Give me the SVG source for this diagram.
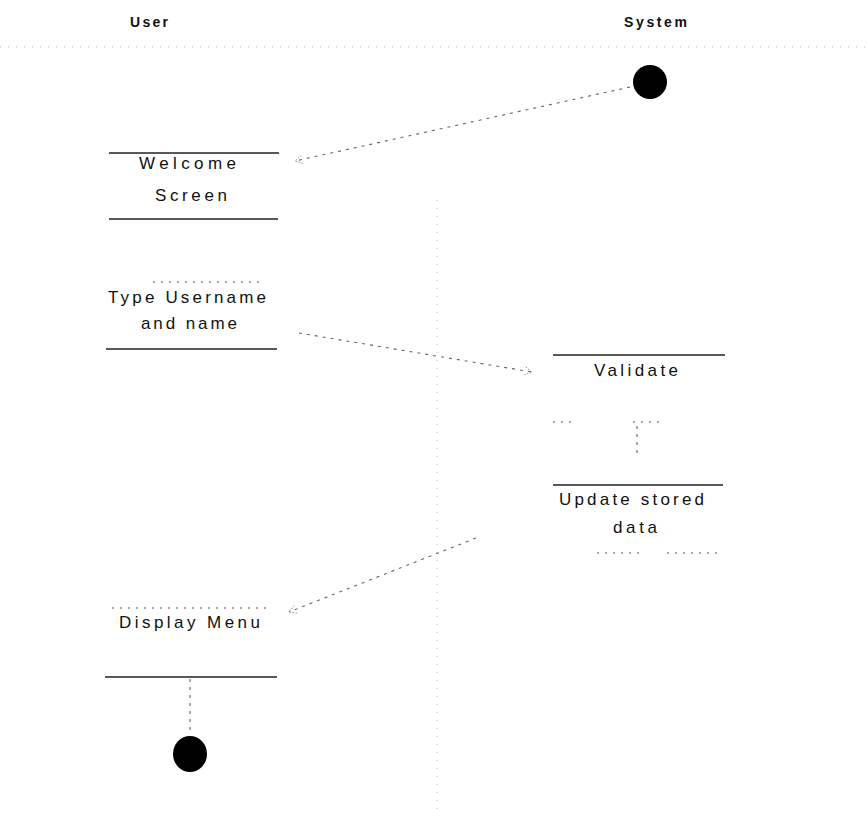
<svg xmlns="http://www.w3.org/2000/svg" width="867" height="819" viewBox="0 0 867 819">
<defs>
<style>
.bg{fill:#ffffff}
.lane{stroke:#b8b8b8;stroke-width:1;stroke-dasharray:1 7;fill:none}
.hdr{font-family:"Liberation Sans",Arial,sans-serif;font-size:14px;font-weight:bold;fill:#111}
.lbl{font-family:"Liberation Sans",Arial,sans-serif;font-size:17px;fill:#111}
.edge{stroke:#222;stroke-width:1.3;fill:none}
.faint{stroke:#555;stroke-width:1;stroke-dasharray:2 6;fill:none}
.conn{stroke:#666;stroke-width:1.1;stroke-dasharray:3 5;fill:none}
.dot{fill:#000}
</style>
<marker id="arr" markerWidth="10" markerHeight="10" refX="8" refY="5" orient="auto" markerUnits="userSpaceOnUse">
<path d="M1,1 L8,5 L1,9" fill="none" stroke="#888" stroke-width="0.9" stroke-dasharray="1.5 1.5"/>
</marker>
</defs>
<rect class="bg" x="0" y="0" width="867" height="819"/>

<g id="lanes">
<line class="lane" x1="0" y1="47" x2="867" y2="47"/>
<line class="lane" x1="437" y1="200" x2="437" y2="812"/>
<text class="hdr" x="130" y="27" textLength="38" lengthAdjust="spacing">User</text>
<text class="hdr" x="624" y="27" textLength="63" lengthAdjust="spacing">System</text>
</g>

<g id="connectors">
<line class="conn" x1="630" y1="87" x2="295" y2="161" marker-end="url(#arr)"/>
<line class="conn" x1="299" y1="333" x2="532" y2="372" marker-end="url(#arr)"/>
<line class="conn" x1="637" y1="426" x2="637" y2="458"/>
<line class="conn" x1="476" y1="538" x2="289" y2="612" marker-end="url(#arr)"/>
<line class="conn" x1="190" y1="679" x2="190" y2="734"/>
</g>

<g id="start">
<ellipse class="dot" cx="650" cy="82" rx="17" ry="17"/>
</g>

<g id="welcome">
<line class="edge" x1="109" y1="153" x2="279" y2="153"/>
<line class="edge" x1="109" y1="219" x2="278" y2="219"/>
<text class="lbl" x="139" y="169" textLength="97" lengthAdjust="spacing">Welcome</text>
<text class="lbl" x="155" y="201" textLength="72" lengthAdjust="spacing">Screen</text>
</g>

<g id="type-username">
<line class="faint" x1="153" y1="282" x2="265" y2="282"/>
<line class="edge" x1="106" y1="349" x2="277" y2="349"/>
<text class="lbl" x="108" y="303" textLength="158" lengthAdjust="spacing">Type Username</text>
<text class="lbl" x="141" y="329" textLength="96" lengthAdjust="spacing">and name</text>
</g>

<g id="validate">
<line class="edge" x1="553" y1="355" x2="725" y2="355"/>
<line class="faint" x1="553" y1="422" x2="576" y2="422"/>
<line class="faint" x1="633" y1="422" x2="662" y2="422"/>
<text class="lbl" x="594" y="376" textLength="84" lengthAdjust="spacing">Validate</text>
</g>

<g id="update">
<line class="edge" x1="553" y1="485" x2="723" y2="485"/>
<line class="faint" x1="597" y1="553" x2="643" y2="553"/>
<line class="faint" x1="667" y1="553" x2="723" y2="553"/>
<text class="lbl" x="559" y="505" textLength="145" lengthAdjust="spacing">Update stored</text>
<text class="lbl" x="613" y="533" textLength="44" lengthAdjust="spacing">data</text>
</g>

<g id="display-menu">
<line class="faint" x1="112" y1="608" x2="272" y2="608"/>
<line class="edge" x1="105" y1="677" x2="277" y2="677"/>
<text class="lbl" x="119" y="628" textLength="141" lengthAdjust="spacing">Display Menu</text>
</g>

<g id="end">
<ellipse class="dot" cx="190" cy="754" rx="17" ry="18"/>
</g>
</svg>
